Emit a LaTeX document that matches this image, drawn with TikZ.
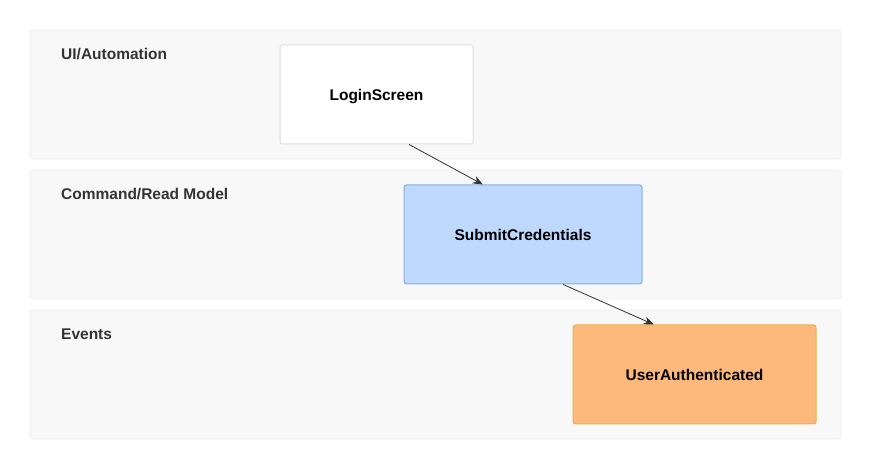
\documentclass[tikz,border=0pt]{standalone}
\usepackage{fontspec}
\setmainfont{Liberation Sans}
\usetikzlibrary{calc,arrows.meta}
\definecolor{lanefill}{HTML}{F8F8F8}
\definecolor{laneline}{HTML}{EEEEEE}
\definecolor{uifill}{HTML}{FFFFFF}
\definecolor{uiline}{HTML}{DDDDDD}
\definecolor{cmdfill}{HTML}{BFD8FE}
\definecolor{cmdline}{HTML}{88AEDD}
\definecolor{evfill}{HTML}{FDB97B}
\definecolor{evline}{HTML}{E2B44A}
\definecolor{txt}{HTML}{333333}
\definecolor{arr}{HTML}{333333}
\tikzset{
  lane/.style={draw=laneline, fill=lanefill, rounded corners=3pt, line width=0.8pt},
  lanelabel/.style={anchor=base west, inner sep=0pt, font=\fontsize{15.5}{18}\selectfont\bfseries, text=txt},
  box/.style={rounded corners=2.5pt, line width=1pt, inner sep=0pt, text depth=0pt, font=\fontsize{15.5}{18}\selectfont\bfseries, text=black},
  uibox/.style={box, draw=uiline, fill=uifill, minimum width=193pt, minimum height=99pt},
  cmdbox/.style={box, draw=cmdline, fill=cmdfill, minimum width=238pt, minimum height=99pt},
  evbox/.style={box, draw=evline, fill=evfill, minimum width=243pt, minimum height=99pt},
  flow/.style={draw=arr, line width=0.8pt, -{Stealth[length=10pt,width=8pt]}}
}
\begin{document}
\begin{tikzpicture}[x=1pt,y=-1pt]
\useasboundingbox (0,0) rectangle (871,470);
\fill[white] (0,0) rectangle (871,470);
\draw[lane] (30,30) rectangle (841,159);
\draw[lane] (30,170) rectangle (841,299);
\draw[lane] (30,310) rectangle (841,439);
\node[lanelabel] (l1) at (61,60) {UI/Automation};
\node[lanelabel] (l2) at (61,200) {Command/Read Model};
\node[lanelabel] (l3) at (61,340) {Events};
\node[uibox] (login) at (376.5,94.5) {LoginScreen};
\node[cmdbox] (submit) at (523,234.5) {SubmitCredentials};
\node[evbox] (user) at (694.5,374.5) {UserAuthenticated};
\draw[flow] ($(login.south west)!0.668!(login.south east)$) -- ($(submit.north west)!0.332!(submit.north east)$);
\draw[flow] ($(submit.south west)!0.668!(submit.south east)$) -- ($(user.north west)!0.333!(user.north east)$);
\end{tikzpicture}
\end{document}
